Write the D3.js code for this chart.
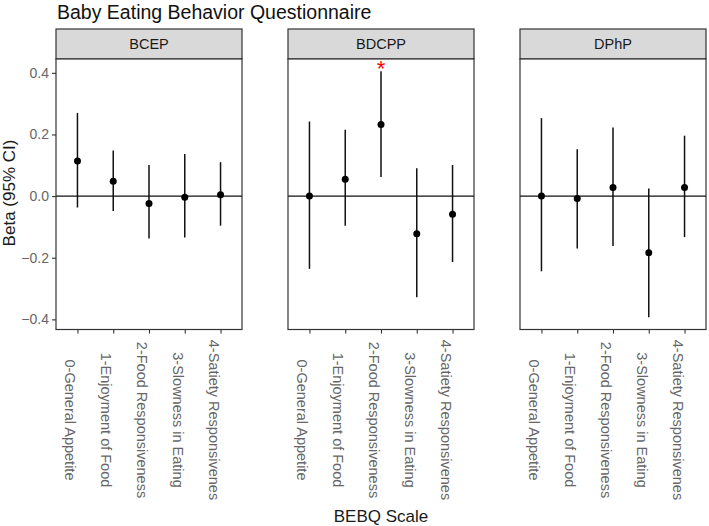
<!DOCTYPE html>
<html lang="en">
<head>
<meta charset="utf-8">
<title>Baby Eating Behavior Questionnaire</title>
<script src="https://cdnjs.cloudflare.com/ajax/libs/d3/7.8.5/d3.min.js"></script>
<style>
  body { margin: 0; background: #fff; }
  svg text { font-family: "Liberation Sans", Arial, sans-serif; }
</style>
</head>
<body>
<svg id="chart" width="709" height="526"></svg>
<script>
  // BEBQ scales on the x axis (same for every panel)
  var categories = ["0-General Appetite", "1-Enjoyment of Food", "2-Food Responsiveness",
    "3-Slowness in Eating", "4-Satiety Responsivenes"];
  var panels = ["BCEP", "BDCPP", "DPhP"];

  // beta estimates and 95% CI, one array per panel
  var betaBCEP = [0.114, 0.048, -0.024, -0.004, 0.004];
  var lowBCEP = [-0.037, -0.048, -0.138, -0.134, -0.096];
  var highBCEP = [0.270, 0.148, 0.101, 0.137, 0.110];

  var betaBDCPP = [0.000, 0.055, 0.232, -0.122, -0.059];
  var lowBDCPP = [-0.236, -0.096, 0.062, -0.328, -0.214];
  var highBDCPP = [0.242, 0.215, 0.405, 0.090, 0.101];

  var betaDPhP = [0.000, -0.008, 0.028, -0.184, 0.028];
  var lowDPhP = [-0.244, -0.170, -0.162, -0.393, -0.133];
  var highDPhP = [0.253, 0.152, 0.223, 0.025, 0.196];

  var yTicks = [-0.4, -0.2, 0.0, 0.2, 0.4];

  // significant result marked with a red star
  var starPanel = "BDCPP", starCat = "2-Food Responsiveness", starValue = 0.43;

  var series = {
    BCEP: { beta: betaBCEP, low: lowBCEP, high: highBCEP },
    BDCPP: { beta: betaBDCPP, low: lowBDCPP, high: highBDCPP },
    DPhP: { beta: betaDPhP, low: lowDPhP, high: highDPhP }
  };

  // layout
  var left = 56, panelW = 186, gap = 46;
  var stripTop = 29, stripH = 30, plotTop = stripTop + stripH, plotBottom = 329.5;

  var svg = d3.select("#chart");

  // y range from the CIs plus 5% each side, like ggplot
  var allVals = [];
  panels.forEach(function (p) { allVals = allVals.concat(series[p].low, series[p].high); });
  var ext = d3.extent(allVals), pad = (ext[1] - ext[0]) * 0.05;
  var y = d3.scaleLinear().domain([ext[0] - pad, ext[1] + pad]).range([plotBottom, plotTop]);

  var x = d3.scalePoint().domain(categories).range([0, panelW]).padding(0.6);

  // title
  svg.append("text")
    .attr("x", 57).attr("y", 19)
    .attr("font-size", "19.5px").attr("fill", "#111")
    .text("Baby Eating Behavior Questionnaire");

  panels.forEach(function (p, pi) {
    var g = svg.append("g").attr("transform", "translate(" + (left + pi * (panelW + gap)) + ",0)");
    var s = series[p];

    // strip
    g.append("rect")
      .attr("x", 0).attr("y", stripTop).attr("width", panelW).attr("height", stripH)
      .attr("fill", "#d9d9d9").attr("stroke", "#333").attr("stroke-width", 1.2);
    g.append("text")
      .attr("x", panelW / 2).attr("y", stripTop + stripH / 2 + 5)
      .attr("text-anchor", "middle").attr("font-size", "14.5px").attr("fill", "#1a1a1a")
      .text(p);

    // panel box
    g.append("rect")
      .attr("x", 0).attr("y", plotTop).attr("width", panelW).attr("height", plotBottom - plotTop)
      .attr("fill", "white").attr("stroke", "#333").attr("stroke-width", 1.2);

    // zero line
    g.append("line")
      .attr("x1", 0).attr("x2", panelW).attr("y1", y(0)).attr("y2", y(0))
      .attr("stroke", "#111").attr("stroke-width", 1.2);

    // error bars + points
    categories.forEach(function (c, i) {
      g.append("line")
        .attr("x1", x(c)).attr("x2", x(c))
        .attr("y1", y(s.low[i])).attr("y2", y(s.high[i]))
        .attr("stroke", "#111").attr("stroke-width", 1.5);
      g.append("circle")
        .attr("cx", x(c)).attr("cy", y(s.beta[i])).attr("r", 3.5)
        .attr("fill", "#000");
    });

    // x axis ticks and rotated labels
    var xa = g.append("g").attr("transform", "translate(0," + plotBottom + ")")
      .call(d3.axisBottom(x).tickSize(4).tickFormat(""));
    xa.select(".domain").remove();
    xa.selectAll(".tick line").attr("stroke", "#333").attr("stroke-width", 1.1);

    categories.forEach(function (c) {
      g.append("text")
        .attr("transform", "translate(" + x(c) + ",420) rotate(90)")
        .attr("y", 12)
        .attr("text-anchor", "middle").attr("font-size", "14.5px").attr("fill", "#666")
        .text(c);
    });

    // y axis only on first panel
    if (pi === 0) {
      var ya = g.append("g").call(d3.axisLeft(y).tickValues(yTicks).tickSize(4).tickPadding(3)
        .tickFormat(d3.format(".1f")));
      ya.select(".domain").remove();
      ya.selectAll(".tick line").attr("stroke", "#333").attr("stroke-width", 1.1);
      ya.selectAll(".tick text").attr("font-size", "14px").attr("fill", "#666")
        .attr("font-family", "Liberation Sans, Arial, sans-serif");
    }

    if (p === starPanel) {
      g.append("text")
        .attr("x", x(starCat)).attr("y", y(starValue) + 12)
        .attr("text-anchor", "middle").attr("font-size", "22px").attr("fill", "red")
        .text("*");
    }
  });

  // axis titles
  svg.append("text")
    .attr("x", left + (3 * panelW + 2 * gap) / 2).attr("y", 522)
    .attr("text-anchor", "middle").attr("font-size", "17px").attr("fill", "#1a1a1a")
    .text("BEBQ Scale");

  svg.append("text")
    .attr("transform", "translate(15,193) rotate(-90)")
    .attr("text-anchor", "middle").attr("font-size", "17px").attr("fill", "#1a1a1a")
    .text("Beta (95% CI)");
</script>
</body>
</html>
